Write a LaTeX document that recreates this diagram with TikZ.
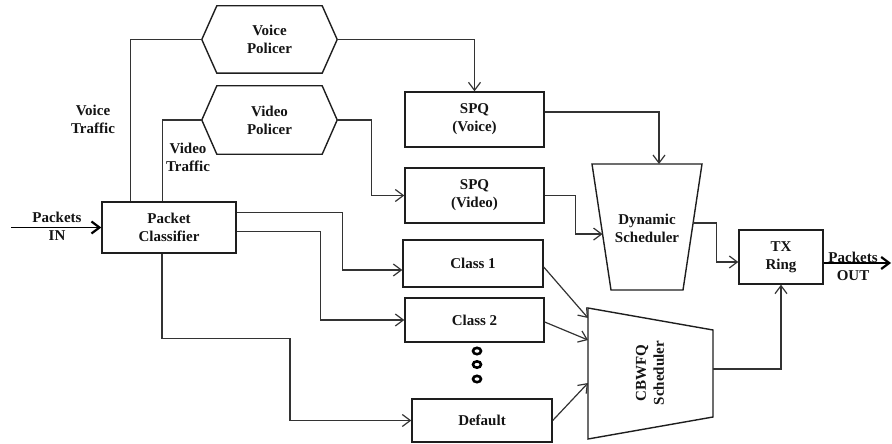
\documentclass[tikz,border=0pt]{standalone}
\usepackage{fontspec}
\setmainfont{Liberation Serif}
\usetikzlibrary{arrows.meta,shapes.geometric,calc}
\definecolor{lnc}{HTML}{333333}
\definecolor{bxc}{HTML}{1E1E1E}
\begin{document}
\begin{tikzpicture}[x=1pt,y=-1pt,
  txt/.style={font=\fontsize{15}{18}\selectfont\bfseries,align=center,text=black!92,inner sep=0pt},
  boxn/.style={txt,draw=bxc,line width=1.4pt},
  ghost/.style={txt,draw=none},
  outl/.style={draw=bxc,line width=1.4pt},
  conn/.style={draw=lnc,line width=1.2pt,-{Straight Barb[length=8pt,width=12pt,line width=1.2pt]}},
  plain/.style={draw=lnc,line width=1.2pt},
  thick arr/.style={draw=black,line width=1.6pt,-{Straight Barb[length=8pt,width=12pt,line width=2.2pt]}},
  dotn/.style={ellipse,draw=black,line width=2.6pt,minimum width=8pt,minimum height=6.4pt,inner sep=0pt}]
\useasboundingbox (0,0) rectangle (892,444);

% nodes
\node[boxn,minimum width=134pt,minimum height=51pt] (pc) at (169,227.5) {Packet\\Classifier};
\node[ghost,minimum width=135pt,minimum height=67pt] (vpol) at (269.5,39.5) {Voice\\Policer};
\node[ghost,minimum width=135pt,minimum height=68pt] (vidpol) at (269.5,120) {Video\\Policer};
\node[boxn,minimum width=139pt,minimum height=55pt] (spqv) at (474.5,119.5) {SPQ\\(Voice)};
\node[boxn,minimum width=139pt,minimum height=55pt] (spqvid) at (474.5,195.5) {SPQ\\(Video)};
\node[boxn,minimum width=140pt,minimum height=47pt] (c1) at (473,263.5) {Class 1};
\node[boxn,minimum width=139pt,minimum height=44pt] (c2) at (474.5,320) {Class 2};
\node[boxn,minimum width=140pt,minimum height=43pt] (def) at (482,420.5) {Default};
\node[boxn,minimum width=84pt,minimum height=54pt] (tx) at (781,257) {TX\\Ring};
\node[ghost] (dyn) at (647,228) {Dynamic\\Scheduler};
\node[ghost,rotate=90] (cbw) at (650,373) {CBWFQ\\Scheduler};

\node[txt] (lvoice) at (93,119) {Voice\\Traffic};
\node[txt] (lvideo) at (188,157) {Video\\Traffic};
\node[txt] (lin) at (57,226) {Packets\\IN};
\node[txt] (lout) at (853,266) {Packets\\OUT};

\node[dotn] (dot1) at (477,351) {};
\node[dotn] (dot2) at (477,364.5) {};
\node[dotn] (dot3) at (477,379) {};

% hexagons
\draw[outl] (vpol.west) -- ([xshift=15pt]vpol.north west) -- ([xshift=-15pt]vpol.north east) -- (vpol.east) -- ([xshift=-15pt]vpol.south east) -- ([xshift=15pt]vpol.south west) -- cycle;
\draw[outl] (vidpol.west) -- ([xshift=15pt]vidpol.north west) -- ([xshift=-15pt]vidpol.north east) -- (vidpol.east) -- ([xshift=-15pt]vidpol.south east) -- ([xshift=15pt]vidpol.south west) -- cycle;

% trapezoids
\coordinate (dtl) at (592,164);
\coordinate (dtr) at (702,164);
\coordinate (dbr) at (683,290);
\coordinate (dbl) at (611,290);
\draw[outl] (dtl) -- (dtr) -- (dbr) -- (dbl) -- cycle;
\coordinate (ctl) at (588,308);
\coordinate (ctr) at (713,330);
\coordinate (cbr) at (713,417);
\coordinate (cbl) at (588,439);
\draw[outl] (ctl) -- (ctr) -- (cbr) -- (cbl) -- cycle;

% connector coordinates
\coordinate (pin) at (11,227.5);
\coordinate (pout) at (891,263);
\coordinate (dtin) at (659,164);
\coordinate (dlin) at ($(dtl)!0.556!(dbl)$);
\coordinate (drout) at ($(dtr)!0.468!(dbr)$);
\coordinate (cbin1) at (588,318);
\coordinate (cbin2) at (588,340);
\coordinate (cbin3) at (588,383);
\coordinate (cbout) at (713,369);

% connectors
\draw[thick arr] (pin) -- (pc.west);
\draw[plain] ([xshift=29pt]pc.north west) |- (vpol.west);
\draw[plain] ([xshift=61pt]pc.north west) |- (vidpol.west);
\draw[conn] (vpol.east) -| (spqv.north);
\draw[conn] (vidpol.east) -- ++(34,0) |- (spqvid.west);
\draw[conn] ([yshift=-11pt]pc.north east) -- ++(106,0) |- ([yshift=-6.5pt]c1.west);
\draw[conn] ([yshift=-30pt]pc.north east) -- ++(84,0) |- (c2.west);
\draw[conn] ([xshift=-7pt]pc.south) -- ++(0,85) -- ++(128,0) |- (def.west);
\draw[conn] ([yshift=7.5pt]spqv.east) -| (dtin);
\draw[conn] (spqvid.east) -- ++(31,0) |- (dlin);
\draw[conn] (drout) -- ++(23,0) |- ([yshift=-5pt]tx.west);
\draw[conn] ([yshift=-3.5pt]c1.east) -- (cbin1);
\draw[conn] ([yshift=-2pt]c2.east) -- (cbin2);
\draw[conn] (def.east) -- (cbin3);
\draw[conn] (cbout) -| (tx.south);
\draw[thick arr] ([yshift=-6pt]tx.east) -- (pout);
\end{tikzpicture}
\end{document}
